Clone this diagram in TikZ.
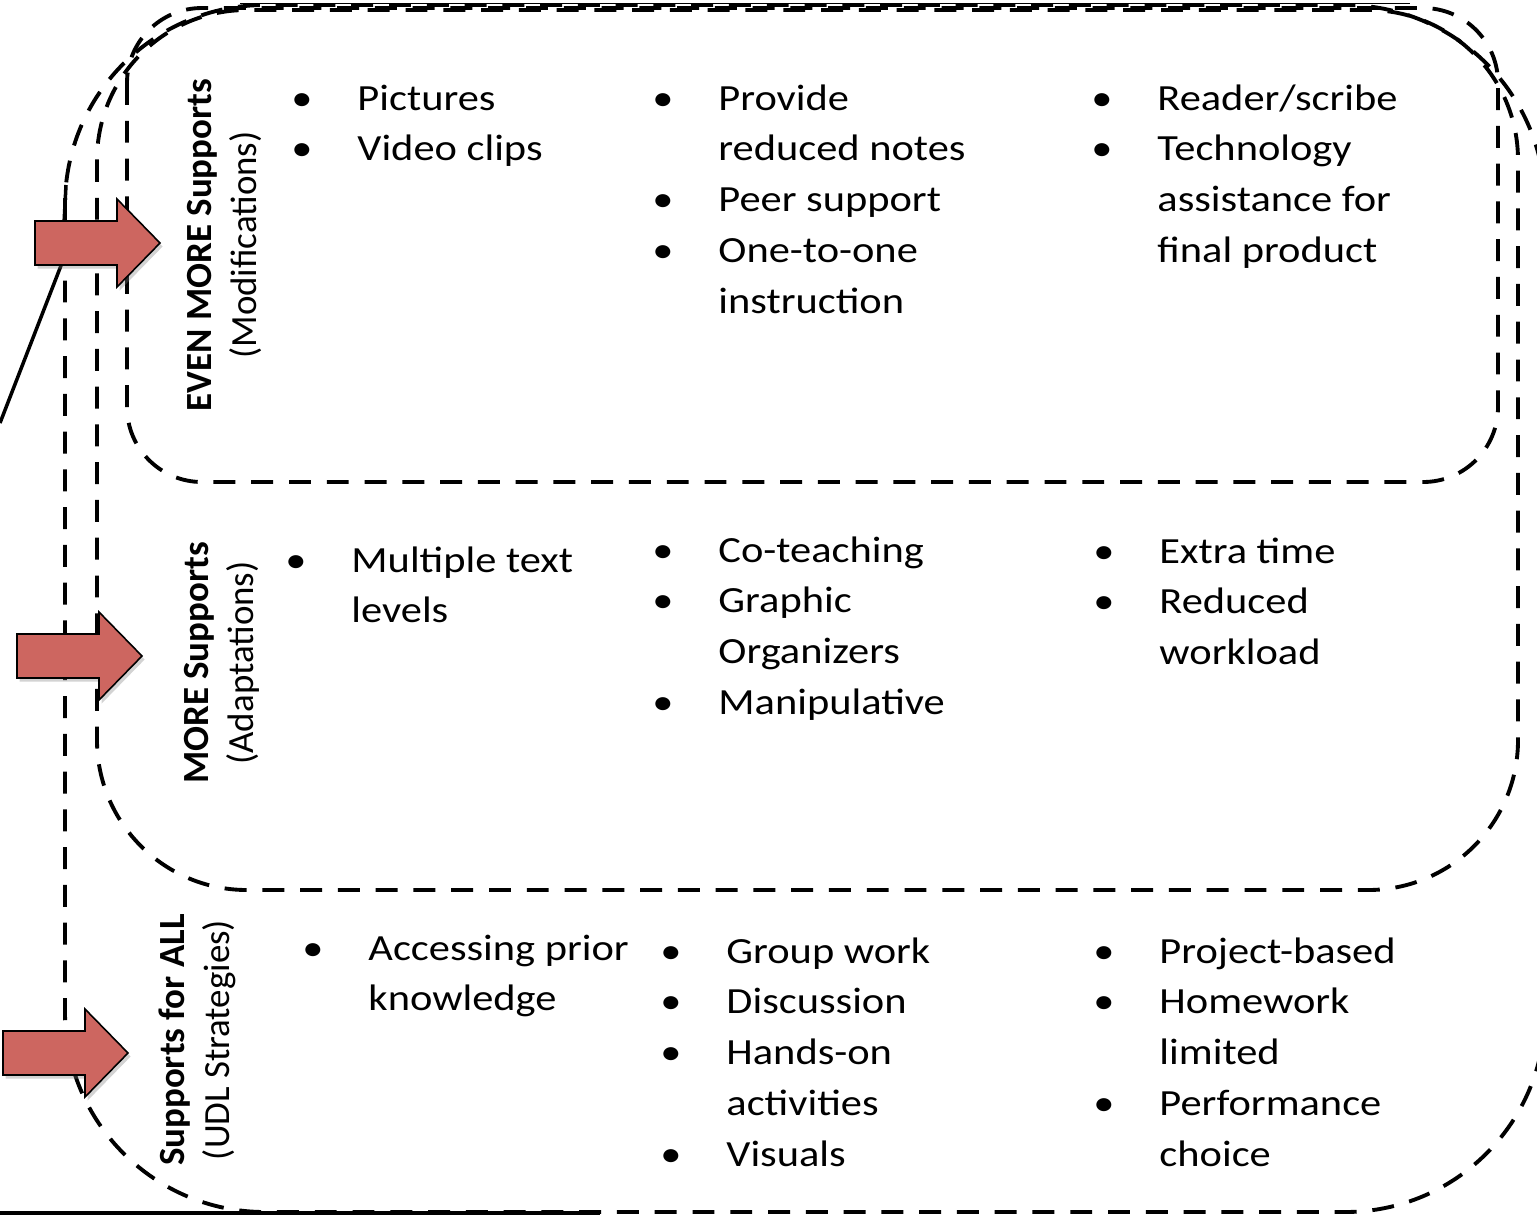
\documentclass[tikz,border=0pt]{standalone}
\usepackage{fontspec}
\setmainfont{Carlito}
\usepackage{tikz}
\usetikzlibrary{shadows}
\definecolor{ink}{HTML}{000000}
\definecolor{arrowred}{HTML}{CD6660}
\newcommand\bulitem{\makebox[1.15cm][l]{•}}
\newcommand\contitem{\hspace*{1.15cm}}
\newcommand\itemcol[1]{\scalebox{1.15}[1]{\begin{tabular}[t]{@{}l@{}}#1\end{tabular}}}
\tikzset{
  tier/.style={draw=ink, line width=2.2pt, dash pattern=on 12.5pt off 9pt},
  solidedge/.style={draw=ink, line width=2pt},
  thinedge/.style={draw=ink, line width=0.5pt},
  redarrow/.style={draw=ink, line width=0.9pt, line join=miter, fill=arrowred,
    drop shadow={opacity=0.35, shadow xshift=1.5pt, shadow yshift=-2pt}},
  tierlab/.style={rotate=90, align=center, inner sep=0pt, text=ink,
    font=\fontsize{21}{25.6}\selectfont},
  items/.style={anchor=base west, inner sep=0pt, text=ink,
    font=\fontsize{21}{29}\selectfont}
}
\begin{document}
\begin{tikzpicture}[x=0.02cm, y=-0.02cm]
  \useasboundingbox (0,0) rectangle (1537,1218);

  % stray outline pieces
  \draw[solidedge] (0,423) -- (62,263) -- (66,185);
  \draw[solidedge] (0,1213) -- (600,1213);
  \draw[thinedge] (240,3) -- (1410,3);

  % the three tiers
  \draw[tier, rounded corners=4cm] (65,5) rectangle (1545,1212);
  \draw[tier, rounded corners=3cm] (97,10) rectangle (1518,890);
  \draw[tier, rounded corners=1.5cm] (127,8) rectangle (1498,482);

  % arrows into each tier
  \foreach \tx/\ty in {160/243, 142/656, 128/1053}
    \draw[redarrow] (\tx-125,\ty-22) -- (\tx-43,\ty-22) -- (\tx-43,\ty-44)
      -- (\tx,\ty) -- (\tx-43,\ty+44) -- (\tx-43,\ty+22) -- (\tx-125,\ty+22) -- cycle;

  % tier titles
  \node[tierlab] (labmod) at (224,245) {\textbf{EVEN MORE Supports}\\(Modifications)};
  \node[tierlab] (labadapt) at (222,663) {\textbf{MORE Supports}\\(Adaptations)};
  \node[tierlab] (laball) at (197,1040) {\textbf{Supports for ALL}\\(UDL Strategies)};

  % EVEN MORE supports
  \node[items] (mod1) at (291,110) {\itemcol{\bulitem Pictures\\\bulitem Video clips}};
  \node[items] (mod2) at (652,110) {\itemcol{\bulitem Provide\\\contitem reduced notes\\\bulitem Peer support\\\bulitem One-to-one\\\contitem instruction}};
  \node[items] (mod3) at (1091,110) {\itemcol{\bulitem Reader/scribe\\\bulitem Technology\\\contitem assistance for\\\contitem final product}};

  % MORE supports
  \node[items] (adapt1) at (285,572) {\itemcol{\bulitem Multiple text\\\contitem levels}};
  \node[items] (adapt2) at (652,562) {\itemcol{\bulitem Co-teaching\\\bulitem Graphic\\\contitem Organizers\\\bulitem Manipulative}};
  \node[items] (adapt3) at (1093,563) {\itemcol{\bulitem Extra time\\\bulitem Reduced\\\contitem workload}};

  % supports for all
  \node[items] (all1) at (302,960) {\itemcol{\bulitem Accessing prior\\\contitem knowledge}};
  \node[items] (all2) at (660,963) {\itemcol{\bulitem Group work\\\bulitem Discussion\\\bulitem Hands-on\\\contitem activities\\\bulitem Visuals}};
  \node[items] (all3) at (1093,963) {\itemcol{\bulitem Project-based\\\bulitem Homework\\\contitem limited\\\bulitem Performance\\\contitem choice}};
\end{tikzpicture}
\end{document}
